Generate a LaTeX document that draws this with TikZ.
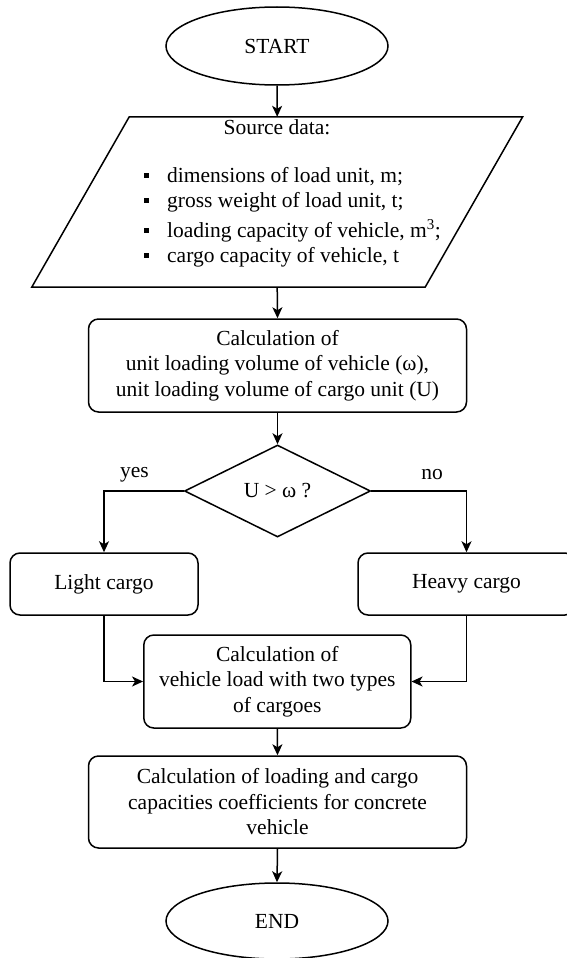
\documentclass[tikz,border=0pt]{standalone}
\usepackage{fontspec}
\setmainfont{Liberation Serif}
\usetikzlibrary{shapes.geometric,arrows.meta}
\begin{document}
\begin{tikzpicture}[x=1pt,y=-1pt,
  every node/.style={font=\fontsize{21.5}{25.5}\selectfont},
  line/.style={line width=1.5pt},
  arr/.style={line width=1.5pt,-{Stealth[length=11pt,width=10pt,inset=3pt]}},
  term/.style={ellipse,draw,line width=1.5pt,inner sep=0pt},
  procbox/.style={rectangle,rounded corners=10pt,draw,line width=1.5pt,align=center,inner sep=0pt},
  decision/.style={diamond,draw,line width=1.5pt,inner sep=0pt,aspect=2},
  bulletdot/.style={fill,inner sep=0pt,minimum size=5pt,rectangle},
  ghost/.style={rectangle,inner sep=0pt}
]
\useasboundingbox (0,0) rectangle (567,958);

% START
\node[term,minimum width=222pt,minimum height=78pt] (start) at (277,46) {START};

% Source data parallelogram
\node[ghost,minimum width=393pt,minimum height=170pt] (src) at (277.2,202) {};
\draw[line] ([xshift=48.75pt]src.north west) -- ([xshift=48.75pt]src.north east)
  -- ([xshift=-48.75pt]src.south east) -- ([xshift=-48.75pt]src.south west) -- cycle;
\node[anchor=base] (srctitle) at (277,134) {Source data:};
\node[bulletdot] (b1) at (146.5,175) {};
\node[bulletdot] (b2) at (146.5,200) {};
\node[bulletdot] (b3) at (146.5,230) {};
\node[bulletdot] (b4) at (146.5,255) {};
\node[anchor=base west,inner sep=0pt] (l1) at (167,182) {dimensions of load unit, m;};
\node[anchor=base west,inner sep=0pt] (l2) at (167,207) {gross weight of load unit, t;};
\node[anchor=base west,inner sep=0pt] (l3) at (167,237) {loading capacity of vehicle, m\textsuperscript{3};};
\node[anchor=base west,inner sep=0pt] (l4) at (167,262) {cargo capacity of vehicle, t};

% Calculation box 1
\node[procbox,minimum width=378pt,minimum height=93pt] (calc1) at (277.5,365.5)
  {Calculation of\\unit loading volume of vehicle (ω),\\unit loading volume of cargo unit (U)};

% Decision
\node[decision,minimum width=186pt,minimum height=92pt] (dec) at (277.5,491) {U > ω ?};
\node (yes) at (134.5,475) {yes};
\node (no) at (432,475) {no};

% Light / Heavy
\node[procbox,minimum width=188pt,minimum height=62pt] (light) at (104,584) {Light cargo};
\node[procbox,minimum width=217pt,minimum height=62pt] (heavy) at (466.5,584) {Heavy cargo};

% Calculation box 2
\node[procbox,minimum width=267pt,minimum height=93pt] (calc2) at (277.3,681.5)
  {Calculation of\\vehicle load with two types\\of cargoes};

% Calculation box 3
\node[procbox,minimum width=378pt,minimum height=92pt] (calc3) at (277.5,802)
  {Calculation of loading and cargo\\capacities coefficients for concrete\\vehicle};

% END
\node[term,minimum width=222pt,minimum height=76pt] (end) at (277,921) {END};

% connectors
\draw[arr] (start.south) -- (src.north);
\draw[arr] (src.south) -- (calc1.north);
\draw[arr] (calc1.south) -- (dec.north);
\draw[arr] (dec.west) -| (light.north);
\draw[arr] (dec.east) -| (heavy.north);
\draw[arr] (light.south) |- (calc2.west);
\draw[arr] (heavy.south) |- (calc2.east);
\draw[arr] (calc2.south) -- (calc3.north);
\draw[arr] (calc3.south) -- (end.north);
\end{tikzpicture}
\end{document}
